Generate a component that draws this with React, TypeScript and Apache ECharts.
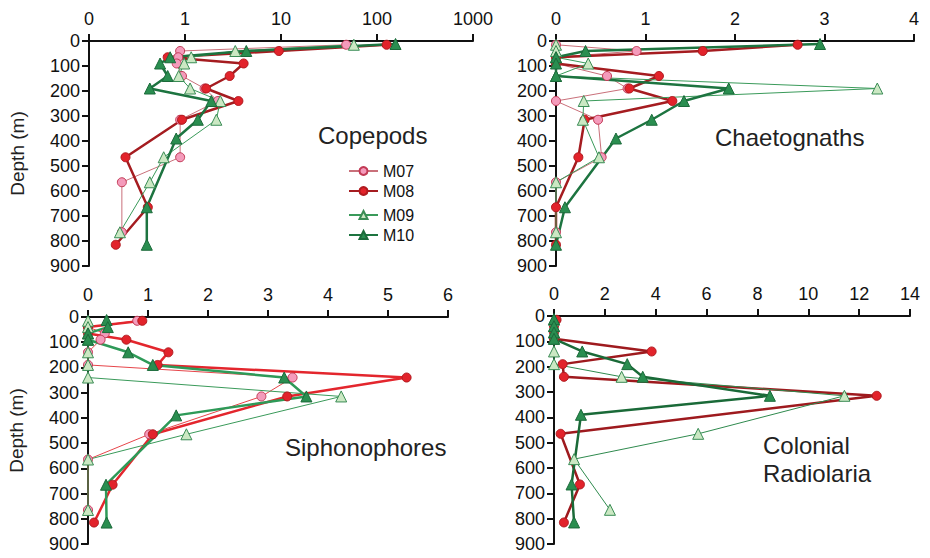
import React, { useEffect, useRef } from "react";
import * as echarts from "echarts";

// Sampling depths (m) per tow
const depthsM07 = [15, 40, 65, 90, 140, 190, 240, 315, 465, 565, 765];
const depthsM08 = [15, 40, 65, 90, 140, 190, 240, 315, 465, 665, 815];
const depthsM09 = [15, 40, 65, 90, 140, 190, 240, 315, 465, 565, 765];
const depthsM10 = [12, 40, 65, 90, 140, 190, 240, 315, 390, 665, 815];

// Copepods (log scale)
const copepodsM07 = [47.8, 0.89, 0.85, 0.82, 0.93, 1.6, 2.2, 0.89, 0.89, 0.22, 0.22];
const copepodsM08 = [126, 9.5, 0.66, 4.08, 2.92, 1.66, 3.6, 0.93, 0.24, 0.41, 0.19];
const copepodsM09 = [57.4, 3.34, 1.16, 0.98, 0.86, 1.13, 2.33, 2.12, 0.6, 0.43, 0.21];
const copepodsM10 = [156, 4.35, 0.7, 0.55, 0.66, 0.43, 1.88, 1.36, 0.81, 0.4, 0.4];

// Chaetognaths
const chaetM07 = [0, 0.9, 0, 0, 0.57, 0.8, 0, 0.47, 0.51, 0, 0];
const chaetM08 = [2.7, 1.64, 0, 0, 1.15, 0.82, 1.3, 0.32, 0.25, 0, 0];
const chaetM09 = [0, 0, 0, 0.36, 0, 3.59, 0.31, 0.3, 0.48, 0, 0];
const chaetM10 = [2.95, 0.33, 0, 0, 0, 1.93, 1.43, 1.07, 0.67, 0.1, 0];

// Siphonophores
const siphM07 = [0.82, 0, 0.28, 0.21, 0, 0, 3.41, 2.89, 1.02, 0, 0];
const siphM08 = [0.905, 0, 0, 0.64, 1.34, 1.16, 5.31, 3.32, 1.08, 0.41, 0.1];
const siphM09 = [0, 0, 0, 0, 0, 0, 0, 4.22, 1.64, 0, 0];
const siphM10 = [0.31, 0.33, 0, 0, 0.67, 1.08, 3.27, 3.64, 1.47, 0.3, 0.31];

// Colonial Radiolaria
const radM08 = [0.1, 0, 0, 0, 3.84, 0.34, 0.39, 12.69, 0.26, 1.02, 0.39];
const radM09 = [0, 0, 0, 0, 0, 0, 2.66, 11.42, 5.67, 0.79, 2.2];
const radM10 = [0, 0, 0, 0, 1.11, 2.88, 3.49, 8.49, 1.06, 0.69, 0.79];

// Legend entries
const legendNames = ["M07", "M08", "M09", "M10"];

// Axis ticks
const depthTicks = { min: 0, max: 900, interval: 100 };
const logTicks = { min: 0.1, max: 1000 };
const chaetTicks = { min: 0, max: 4, interval: 1 };
const siphTicks = { min: 0, max: 6, interval: 1 };
const radTicks = { min: 0, max: 14, interval: 2 };

const FONT = '"Liberation Sans", Arial, Helvetica, sans-serif';
const AX = "#111";

function pairs(vals: number[], depths: number[]) {
  return vals.map((v, i) => [v, depths[i]]);
}

type Style = { line: string; width: number; fill: string; border: string; symbol: string; size: number };

function makeSeries(name: string, data: number[][], idx: number, st: Style) {
  return {
    name,
    type: "line",
    xAxisIndex: idx,
    yAxisIndex: idx,
    data,
    symbol: st.symbol,
    symbolSize: st.size,
    showSymbol: true,
    lineStyle: { color: st.line, width: st.width },
    itemStyle: { color: st.fill, borderColor: st.border, borderWidth: 1 },
    emphasis: { disabled: true },
  };
}

const topStyles: Record<string, Style> = {
  M07: { line: "#c9707a", width: 1, fill: "#f49bbb", border: "#c23a55", symbol: "circle", size: 9 },
  M08: { line: "#a51c20", width: 2.5, fill: "#e2232b", border: "#b01a1f", symbol: "circle", size: 9 },
  M09: { line: "#3a9a5a", width: 1, fill: "#cbe8c3", border: "#3a8c55", symbol: "triangle", size: 11 },
  M10: { line: "#1d7440", width: 2.5, fill: "#2a8e50", border: "#1b6a3a", symbol: "triangle", size: 11 },
};
const siphStyles: Record<string, Style> = {
  M07: { line: "#e6454a", width: 1, fill: "#f49bbb", border: "#c23a55", symbol: "circle", size: 9 },
  M08: { line: "#e3262d", width: 2.5, fill: "#e2232b", border: "#b01a1f", symbol: "circle", size: 9 },
  M09: { line: "#3a9a5a", width: 1, fill: "#cbe8c3", border: "#3a8c55", symbol: "triangle", size: 11 },
  M10: { line: "#2e9a58", width: 2.5, fill: "#2a8e50", border: "#1b6a3a", symbol: "triangle", size: 11 },
};
const radStyles: Record<string, Style> = {
  M08: { line: "#9e1a1e", width: 2.5, fill: "#e2232b", border: "#b01a1f", symbol: "circle", size: 9 },
  M09: { line: "#2f8a4e", width: 1, fill: "#cbe8c3", border: "#3a8c55", symbol: "triangle", size: 11 },
  M10: { line: "#1a6a38", width: 2.5, fill: "#2a8e50", border: "#1b6a3a", symbol: "triangle", size: 11 },
};

const axisCommon = {
  axisLine: { show: true, onZero: false, lineStyle: { color: AX, width: 2 } },
  axisTick: { show: true, length: 7, lineStyle: { color: AX, width: 2 } },
  splitLine: { show: false },
};

function xAxis(idx: number, extra: any) {
  return {
    gridIndex: idx,
    position: "top",
    ...axisCommon,
    axisLabel: { fontSize: 18, color: AX, margin: 13, fontFamily: FONT },
    ...extra,
  };
}

function yAxis(idx: number, withName: boolean) {
  return {
    gridIndex: idx,
    type: "value",
    inverse: true,
    ...depthTicks,
    ...axisCommon,
    axisLabel: { fontSize: 18, color: AX, margin: 9, fontFamily: FONT },
    name: withName ? "Depth (m)" : "",
    nameLocation: "middle",
    nameRotate: 90,
    nameGap: 62,
    nameTextStyle: { fontSize: 19, color: "#222", fontFamily: FONT },
  };
}

export default function App() {
  const ref = useRef<HTMLDivElement>(null);
  useEffect(() => {
    if (!ref.current) return;
    const chart = echarts.init(ref.current, undefined, { renderer: "svg" });
    const series: any[] = [
      makeSeries("M07", pairs(copepodsM07, depthsM07), 0, topStyles.M07),
      makeSeries("M08", pairs(copepodsM08, depthsM08), 0, topStyles.M08),
      makeSeries("M09", pairs(copepodsM09, depthsM09), 0, topStyles.M09),
      makeSeries("M10", pairs(copepodsM10, depthsM10), 0, topStyles.M10),
      makeSeries("M07", pairs(chaetM07, depthsM07), 1, topStyles.M07),
      makeSeries("M08", pairs(chaetM08, depthsM08), 1, topStyles.M08),
      makeSeries("M09", pairs(chaetM09, depthsM09), 1, topStyles.M09),
      makeSeries("M10", pairs(chaetM10, depthsM10), 1, topStyles.M10),
      makeSeries("M07", pairs(siphM07, depthsM07), 2, siphStyles.M07),
      makeSeries("M08", pairs(siphM08, depthsM08), 2, siphStyles.M08),
      makeSeries("M09", pairs(siphM09, depthsM09), 2, siphStyles.M09),
      makeSeries("M10", pairs(siphM10, depthsM10), 2, siphStyles.M10),
      makeSeries("M08", pairs(radM08, depthsM08), 3, radStyles.M08),
      makeSeries("M09", pairs(radM09, depthsM09), 3, radStyles.M09),
      makeSeries("M10", pairs(radM10, depthsM10), 3, radStyles.M10),
    ];
    const legendTops = [158, 178, 202, 222];
    const legends = legendNames.map((n, i) => ({
      orient: "vertical",
      left: 343,
      top: legendTops[i],
      itemWidth: 29,
      itemHeight: 10,
      selectedMode: false,
      textStyle: { fontSize: 16, lineHeight: 16, color: AX, fontFamily: FONT },
      data: [n],
    }));
    const option: any = {
      animation: false,
      backgroundColor: "#ffffff",
      textStyle: { fontFamily: FONT },
      grid: [
        { left: 89, top: 41, width: 384, height: 225 },
        { left: 556, top: 41, width: 358, height: 225 },
        { left: 88, top: 317, width: 360, height: 227 },
        { left: 554, top: 316, width: 356, height: 228 },
      ],
      xAxis: [
        xAxis(0, {
          type: "log",
          logBase: 10,
          ...logTicks,
          axisLabel: {
            fontSize: 18,
            color: AX,
            margin: 13,
            fontFamily: FONT,
            formatter: (v: number) => (v < 1 ? "0" : String(Math.round(v))),
          },
        }),
        xAxis(1, { type: "value", ...chaetTicks }),
        xAxis(2, { type: "value", ...siphTicks }),
        xAxis(3, { type: "value", ...radTicks }),
      ],
      yAxis: [yAxis(0, true), yAxis(1, false), yAxis(2, true), yAxis(3, false)],
      legend: legends,
      graphic: [
        { type: "text", x: 318, y: 135, style: { text: "Copepods", fontSize: 24, fontFamily: FONT, fill: "#222", align: "left", verticalAlign: "middle" } },
        { type: "text", x: 715, y: 137, style: { text: "Chaetognaths", fontSize: 24, fontFamily: FONT, fill: "#222", align: "left", verticalAlign: "middle" } },
        { type: "text", x: 285, y: 447, style: { text: "Siphonophores", fontSize: 24, fontFamily: FONT, fill: "#222", align: "left", verticalAlign: "middle" } },
        { type: "text", x: 763, y: 459, style: { text: "Colonial\nRadiolaria", fontSize: 24, lineHeight: 28, fontFamily: FONT, fill: "#222", align: "left", verticalAlign: "middle" } },
      ],
      series,
    };
    chart.setOption(option);
    return () => chart.dispose();
  }, []);
  return (
    <div
      ref={ref}
      style={{ position: "fixed", left: 0, top: 0, width: 930, height: 558, background: "#fff" }}
    />
  );
}
